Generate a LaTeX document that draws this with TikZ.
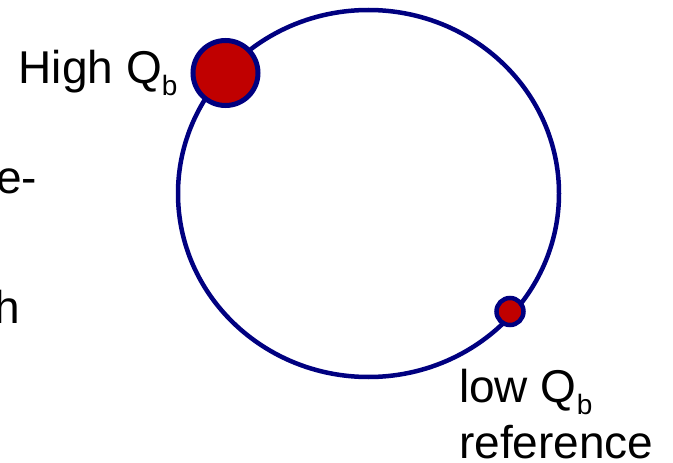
\documentclass[tikz,border=0pt]{standalone}
\usepackage{fontspec}
\setmainfont{Liberation Sans}
\definecolor{ringblue}{RGB}{0,0,128}
\definecolor{dotred}{RGB}{192,0,0}
\newcommand{\subb}{\raisebox{-12pt}{\fontsize{28}{28}\selectfont b}}
\begin{document}
\begin{tikzpicture}[x=1pt,y=-1pt,
  lbl/.style={inner sep=0pt, anchor=base west, font=\fontsize{46}{56}\selectfont},
  dot/.style={circle, draw=ringblue, fill=dotred, line width=5pt, inner sep=0pt}]
\useasboundingbox (0,0) rectangle (673,463);
\draw[ringblue, line width=4.5pt] (368.5,193.5) ellipse [x radius=190.5, y radius=183.5];
\node[dot, minimum size=65pt] (hi) at (225.5,73) {};
\node[dot, line width=4.5pt, minimum size=27pt] (lo) at (510,311.5) {};
\node[lbl] (hilbl) at (18.5,83) {High Q\subb};
\node[lbl] (lolbl) at (459,402) {low Q\subb};
\node[lbl] (reflbl) at (459,458) {reference};
\node[lbl] (cute) at (-4,193) {e-};
\node[lbl] (cuth) at (-5.4,323) {h};
\end{tikzpicture}
\end{document}
